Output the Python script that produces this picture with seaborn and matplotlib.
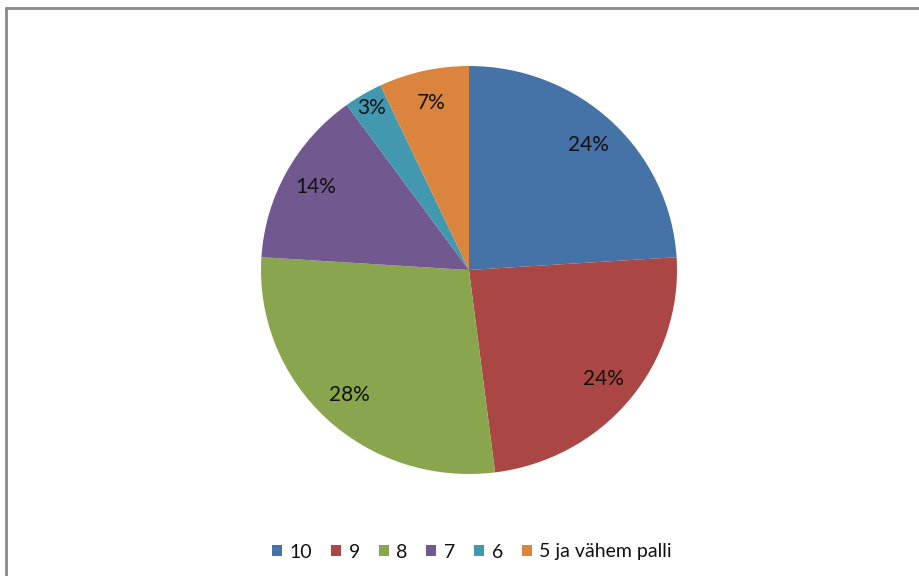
import seaborn as sns
import matplotlib.pyplot as plt
from matplotlib.lines import Line2D
from matplotlib.patches import Patch

categories = ['10', '9', '8', '7', '6', '5 ja vähem palli']
shares = [24, 24, 28, 14, 3, 7]
colors = ['#4572A7', '#AA4643', '#89A54E', '#71588F', '#4198AF', '#DB843D']

sns.set_theme(style="white")
plt.rcParams['font.family'] = ['Lato', 'DejaVu Sans']
palette = sns.color_palette(colors)

fig = plt.figure(figsize=(9.2, 5.76), dpi=100)
# pie box: x 261..677, y 66..474 (pixels from top-left)
ax = fig.add_axes([261 / 920, 1 - 474 / 576, 416 / 920, 408 / 576])

wedges, texts, autotexts = ax.pie(
    shares, colors=palette, startangle=90, counterclock=False,
    autopct='%d%%', pctdistance=0.84, radius=1,
    wedgeprops=dict(linewidth=0),
    textprops=dict(fontsize=15, color='#111111'))
ax.set_xlim(-1, 1)
ax.set_ylim(-1, 1)
ax.set_aspect('auto')
ax.axis('off')

# small slice label sits further out, like the original
x, y = autotexts[4].get_position()
autotexts[4].set_position((x * 1.1, y * 1.1))

handles = [Patch(facecolor=c, edgecolor='none') for c in palette]
fig.legend(handles, categories, loc='center', ncol=6,
           bbox_to_anchor=(472 / 920, 1 - 552 / 576), frameon=False,
           fontsize=14, handlelength=0.52, handleheight=0.52,
           handletextpad=0.4, columnspacing=0.95, labelcolor='#111111')

# chart frame (left and top edges visible)
fig.add_artist(Line2D([6 / 920, 6 / 920], [0, 1 - 8 / 576], color='#8a8a8a', lw=2))
fig.add_artist(Line2D([6 / 920, 1], [1 - 8 / 576, 1 - 8 / 576], color='#8a8a8a', lw=2))

fig.savefig('out.png', dpi=100)
